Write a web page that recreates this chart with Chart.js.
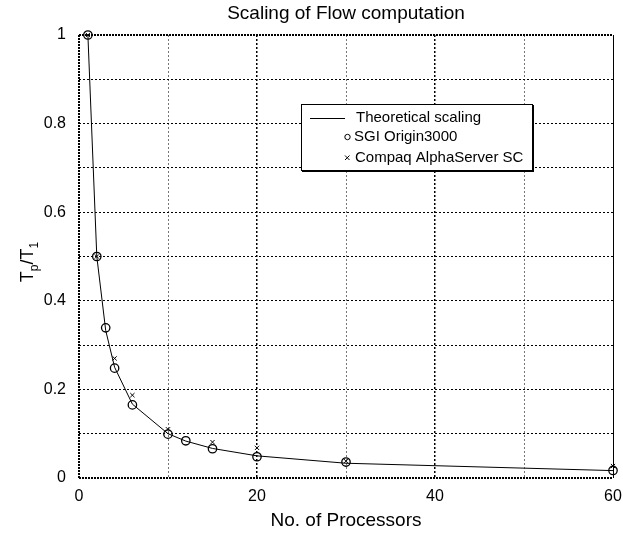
<!DOCTYPE html>
<html><head><meta charset="utf-8">
<script src="https://cdn.jsdelivr.net/npm/chart.js@4"></script>
<style>html,body{margin:0;padding:0;background:#fff}#wrap{width:623px;height:533px}</style>
</head><body><div id="wrap"><canvas id="c" width="623" height="533"></canvas></div>
<script>
const chartTitle = 'Scaling of Flow computation';
const xTitle = 'No. of Processors';
const seriesNames = ['Theoretical scaling', 'SGI Origin3000', 'Compaq AlphaServer SC'];
const xTicks = [0, 20, 40, 60];
const yTicks = [0, 0.2, 0.4, 0.6, 0.8, 1];

const processors = [1, 2, 3, 4, 6, 10, 12, 15, 20, 30, 60];
const theoretical = [1, 0.5, 0.3333, 0.25, 0.1667, 0.1, 0.0833, 0.0667, 0.05, 0.0333, 0.0167];
const sgiOrigin = [1, 0.5, 0.339, 0.248, 0.165, 0.099, 0.084, 0.066, 0.048, 0.036, 0.017];
const compaqProcessors = [1, 2, 4, 6, 10, 15, 20, 30, 60];
const compaqAlpha = [1, 0.5, 0.27, 0.187, 0.11, 0.081, 0.068, 0.038, 0.027];

const FONT = "'Liberation Sans', Arial, Helvetica, sans-serif";
const pts = (xs, ys) => xs.map((x, i) => ({x: x, y: ys[i]}));

const decor = {
  id: 'decor',
  beforeDatasetsDraw(chart) {
    const {ctx, chartArea: a} = chart;
    ctx.save();
    ctx.strokeStyle = '#000';
    ctx.lineWidth = 1;
    ctx.setLineDash([]);
    ctx.beginPath();
    ctx.moveTo(Math.round(a.right) + 0.5, a.top);
    ctx.lineTo(Math.round(a.right) + 0.5, a.bottom);
    ctx.stroke();
    ctx.lineWidth = 2;
    ctx.setLineDash([2, 1]);
    ctx.beginPath();
    ctx.moveTo(a.left, a.top); ctx.lineTo(a.right, a.top);
    ctx.moveTo(a.left, a.bottom); ctx.lineTo(a.right, a.bottom);
    ctx.moveTo(a.left, a.top); ctx.lineTo(a.left, a.bottom);
    ctx.stroke();
    ctx.restore();
  },
  afterDraw(chart) {
    const {ctx, chartArea: a} = chart;
    ctx.save();
    ctx.fillStyle = '#000';
    ctx.font = '19px ' + FONT;
    ctx.textAlign = 'center';
    ctx.textBaseline = 'middle';
    ctx.fillText(chartTitle, (a.left + a.right) / 2, 13.5);
    ctx.font = '19px ' + FONT;
    ctx.fillText(xTitle, (a.left + a.right) / 2, 520.5);
    ctx.translate(27, 262);
    ctx.rotate(-Math.PI / 2);
    const big = '18px ' + FONT, small = '12px ' + FONT;
    const parts = [['T', big, 0], ['p', small, 5], ['/T', big, 0], ['1', small, 5]];
    let w = 0;
    parts.forEach(p => { ctx.font = p[1]; w += ctx.measureText(p[0]).width; });
    let x = -w / 2;
    ctx.textAlign = 'left';
    ctx.textBaseline = 'alphabetic';
    parts.forEach(p => { ctx.font = p[1]; ctx.fillText(p[0], x, 6 + p[2]); x += ctx.measureText(p[0]).width; });
    ctx.restore();

    ctx.save();
    const L = 301, T = 104, W = 231, H = 66;
    ctx.fillStyle = '#000';
    ctx.fillRect(L + 1, T + 1, W + 1, H + 1);
    ctx.fillStyle = '#fff';
    ctx.fillRect(L, T, W, H);
    ctx.strokeStyle = '#000';
    ctx.lineWidth = 1;
    ctx.strokeRect(L + 0.5, T + 0.5, W, H);
    ctx.beginPath();
    ctx.moveTo(310, 118.5); ctx.lineTo(345, 118.5);
    ctx.stroke();
    ctx.beginPath();
    ctx.arc(347.5, 137, 2.7, 0, Math.PI * 2);
    ctx.stroke();
    ctx.beginPath();
    ctx.moveTo(345, 155.5); ctx.lineTo(349.5, 160);
    ctx.moveTo(349.5, 155.5); ctx.lineTo(345, 160);
    ctx.stroke();
    ctx.fillStyle = '#000';
    ctx.font = '15px ' + FONT;
    ctx.textAlign = 'left';
    ctx.textBaseline = 'middle';
    ctx.fillText(seriesNames[0], 356, 118);
    ctx.fillText(seriesNames[1], 354, 137);
    ctx.fillText(seriesNames[2], 355, 158);
    ctx.restore();
  }
};

new Chart(document.getElementById('c'), {
  type: 'scatter',
  data: {
    datasets: [
      { label: seriesNames[0], data: pts(processors, theoretical), showLine: true, borderColor: '#000', borderWidth: 1, pointRadius: 0, tension: 0, clip: false },
      { label: seriesNames[1], data: pts(processors, sgiOrigin), showLine: false, pointStyle: 'circle', pointRadius: 4.2, borderColor: '#000', backgroundColor: 'rgba(0,0,0,0)', pointBorderWidth: 1.3, clip: false },
      { label: seriesNames[2], data: pts(compaqProcessors, compaqAlpha), showLine: false, pointStyle: 'crossRot', pointRadius: 3, borderColor: '#000', pointBorderWidth: 1, clip: false }
    ]
  },
  options: {
    responsive: false, animation: false, devicePixelRatio: 1,
    layout: { padding: { top: 35, right: 0, left: 0, bottom: 0 } },
    plugins: { legend: { display: false }, title: { display: false }, tooltip: { enabled: false } },
    scales: {
      x: {
        type: 'linear', min: 0, max: 60,
        afterFit(s) { s.height = 55; s.paddingRight = 10; s.paddingLeft = 0; },
        ticks: { stepSize: 10, autoSkip: false, maxRotation: 0, padding: 9, color: '#000',
          font: { family: FONT, size: 16 },
          callback: v => xTicks.includes(v) ? String(v) : '' },
        grid: { drawTicks: false,
          color: c => (c.tick && (c.tick.value === 0 || c.tick.value === 60)) ? 'rgba(0,0,0,0)' : (c.tick && c.tick.value % 20 === 0 ? '#000' : '#777'),
          lineWidth: c => (c.tick && c.tick.value % 20 === 0) ? 1.5 : 1 },
        border: { display: false, dash: [2, 2] }
      },
      y: {
        type: 'linear', min: 0, max: 1,
        afterFit(s) { s.width = 79; },
        ticks: { stepSize: 0.1, autoSkip: false, padding: 13, color: '#000',
          font: { family: FONT, size: 16 },
          callback: v => { const r = Math.round(v * 10) / 10; return yTicks.includes(r) ? String(r) : ''; } },
        grid: { drawTicks: false,
          color: c => (c.tick && (Math.round(c.tick.value * 10) === 0 || Math.round(c.tick.value * 10) === 10)) ? 'rgba(0,0,0,0)' : '#000',
          lineWidth: 1 },
        border: { display: false, dash: [2, 2] }
      }
    }
  },
  plugins: [decor]
});
</script>
</body></html>
